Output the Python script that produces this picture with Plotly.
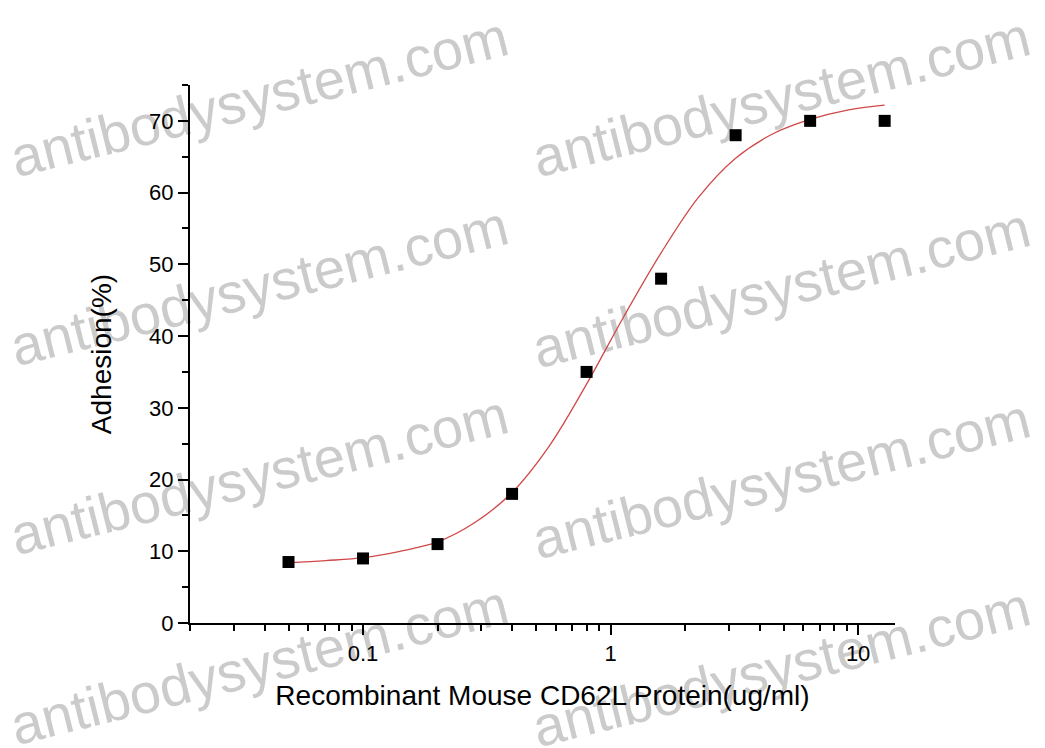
import plotly.graph_objects as go

conc = [0.05, 0.1, 0.2, 0.4, 0.8, 1.6, 3.2, 6.4, 12.8]
adhesion = [8.5, 9.0, 11.0, 18.0, 35.0, 48.0, 68.0, 70.0, 70.0]

# fitted curve
fit_conc = [0.05, 0.0707, 0.1, 0.141, 0.2, 0.283, 0.4, 0.566, 0.8,
            1.13, 1.6, 2.26, 3.2, 4.53, 6.4, 9.05, 12.8]
fit_adhesion = [8.4, 8.7, 9.1, 10.0, 11.3, 14.0, 18.2, 24.7, 33.3,
                42.7, 51.6, 59.3, 64.8, 68.2, 70.2, 71.5, 72.2]

x_major = [0.1, 1, 10]
x_labels = ['0.1', '1', '10']
x_minor = [0.02, 0.03, 0.04, 0.05, 0.06, 0.07, 0.08, 0.09,
           0.2, 0.3, 0.4, 0.5, 0.6, 0.7, 0.8, 0.9,
           2, 3, 4, 5, 6, 7, 8, 9]

watermark = 'antibodysystem.com'
# watermark centres in pixels of the page
wm_pos = [(258, 92), (258, 281), (258, 470), (258, 660),
          (780, 92), (780, 283), (780, 474), (780, 662)]

FONT = 'Liberation Sans, Arial, sans-serif'
# the page is drawn with an 8px body offset
OFF = 8
W, H = 1037, 740
L, T = 190 - OFF, 85 - OFF
R, B = W - (895 - OFF), H - (623 - OFF)
pw, ph = W - L - R, H - T - B

fig = go.Figure()
fig.add_trace(go.Scatter(x=fit_conc, y=fit_adhesion, mode='lines',
                         line=dict(color='#d04848', width=1.3, shape='spline'),
                         showlegend=False, hoverinfo='skip'))
fig.add_trace(go.Scatter(x=conc, y=adhesion, mode='markers',
                         marker=dict(symbol='square', size=12, color='black'),
                         showlegend=False))

# watermark drawn under the data, as shape labels
for px, py in wm_pos:
    cx = (px - OFF - L) / pw
    cy = (H - B - (py - OFF)) / ph
    fig.add_shape(type='rect', xref='paper', yref='paper',
                  x0=cx - 0.001, x1=cx + 0.001, y0=cy - 0.001, y1=cy + 0.001,
                  line=dict(width=0), fillcolor='rgba(0,0,0,0)', layer='below',
                  label=dict(text=watermark, textangle=-14, textposition='middle center',
                             font=dict(family=FONT, size=56, color='#cbcbcb')))

fig.update_layout(
    width=W, height=H,
    margin=dict(l=L, r=R, t=T, b=B, autoexpand=False),
    paper_bgcolor='white', plot_bgcolor='white',
    font=dict(family=FONT, color='black'),
    xaxis=dict(
        type='log', range=[-1.699, 1.149],
        tickvals=x_major, ticktext=x_labels,
        ticks='outside', ticklen=10, tickwidth=2, tickcolor='black',
        minor=dict(tickvals=x_minor, ticks='outside', ticklen=6, tickwidth=2,
                   tickcolor='black', showgrid=False),
        showline=True, linecolor='black', linewidth=2,
        showgrid=False, zeroline=False,
        tickfont=dict(size=22),
        title=dict(text='Recombinant Mouse CD62L Protein(ug/ml)',
                   font=dict(size=28), standoff=20),
    ),
    yaxis=dict(
        range=[0, 75], dtick=10, tick0=0,
        ticks='outside', ticklen=10, tickwidth=2, tickcolor='black',
        minor=dict(dtick=5, tick0=0, ticks='outside', ticklen=6, tickwidth=2,
                   tickcolor='black', showgrid=False),
        showline=True, linecolor='black', linewidth=2,
        showgrid=False, zeroline=False,
        tickfont=dict(size=22),
        title=dict(text='Adhesion(%)', font=dict(size=28), standoff=29),
    ),
)

fig.write_html('out.html')
